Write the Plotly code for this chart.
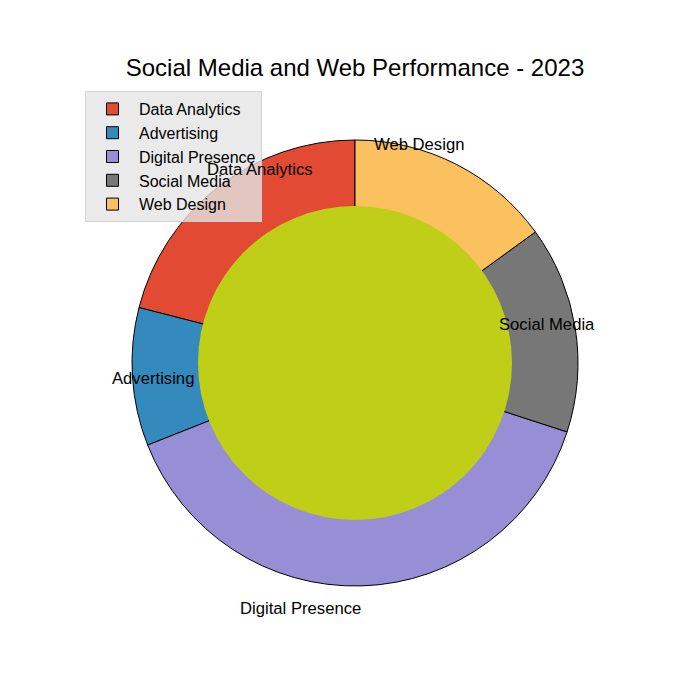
import math
import plotly.graph_objects as go

labels = ["Data Analytics", "Advertising", "Digital Presence", "Social Media", "Web Design"]
values = [21, 10, 39, 15, 15]
colors = ["#E24A33", "#348ABD", "#988ED5", "#777777", "#FBC15E"]
title = "Social Media and Web Performance - 2023"

W = H = 700
cx, cy = 355, 363  # pixel center (from top)
R = 223
R_in = 157
FONT = "Liberation Sans, Arial"

total = sum(values)
fig = go.Figure()
fig.add_trace(go.Pie(
    labels=labels, values=values, sort=False, direction="counterclockwise",
    rotation=-360.0 * values[0] / total, textinfo="none", hoverinfo="label+percent",
    marker=dict(colors=colors, line=dict(color="black", width=1)),
    domain=dict(x=[(cx - R) / W, (cx + R) / W], y=[(H - cy - R) / H, (H - cy + R) / H]),
))

# outer labels at 1.1 radius, at the middle angle of each slice
annotations = []
start = 90.0
for lab, v in zip(labels, values):
    span = 360.0 * v / total
    mid = math.radians(start + span / 2)
    start += span
    x = cx + 1.1 * R * math.cos(mid)
    y = cy - 1.1 * R * math.sin(mid)
    annotations.append(dict(
        x=x / W, y=1 - y / H, xref="paper", yref="paper", text=lab, showarrow=False,
        xanchor="left" if math.cos(mid) < 0 else "right", yanchor="middle",
        font=dict(family=FONT, size=16.67, color="black"),
    ))

fig.update_layout(
    width=W, height=H, margin=dict(l=0, r=0, t=0, b=0),
    paper_bgcolor="white", plot_bgcolor="white",
    title=dict(text=title, x=cx / W, xanchor="center", y=1 - 68 / H, yanchor="middle",
               font=dict(family=FONT, size=24, color="black")),
    shapes=[dict(type="circle", xref="paper", yref="paper", layer="above",
                 x0=(cx - R_in) / W, x1=(cx + R_in) / W,
                 y0=(H - cy - R_in) / H, y1=(H - cy + R_in) / H,
                 fillcolor="#BFCF17", line=dict(width=0))],
    annotations=annotations,
    legend=dict(x=85 / W, y=1 - 91 / H, xanchor="left", yanchor="top",
                bgcolor="rgba(229,229,229,0.8)", bordercolor="rgba(204,204,204,0.8)", borderwidth=1,
                font=dict(family=FONT, size=16, color="black"),
                tracegroupgap=0, itemwidth=43),
    showlegend=True,
)

fig.write_html("out.html")
